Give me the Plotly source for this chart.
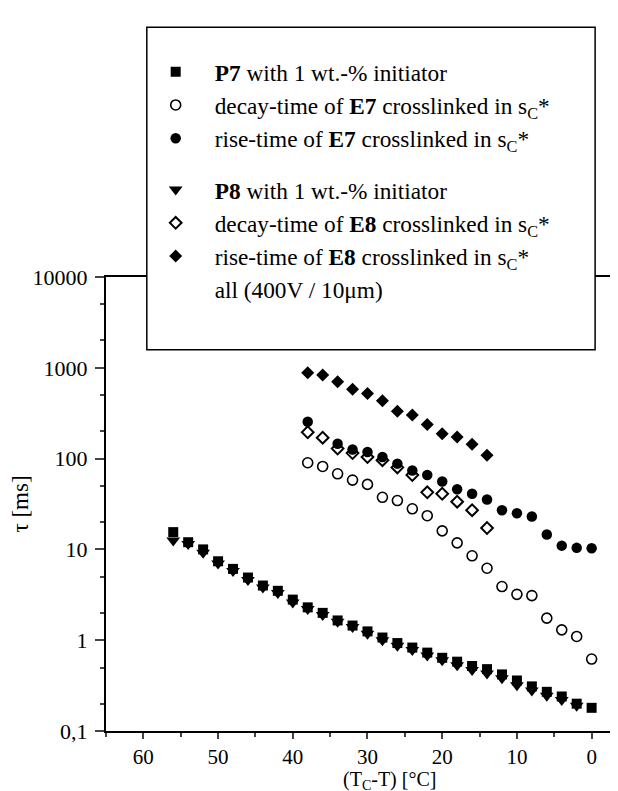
import plotly.graph_objects as go

# ---- data ----
x_p7 = [56, 54, 52, 50, 48, 46, 44, 42, 40, 38, 36, 34, 32, 30, 28, 26, 24, 22, 20, 18, 16, 14, 12, 10, 8, 6, 4, 2, 0]
y_p7 = [15.5, 12, 10, 7.4, 6.1, 4.9, 4.0, 3.5, 2.8, 2.3, 2.0, 1.65, 1.45, 1.25, 1.07, 0.93, 0.83, 0.73, 0.64, 0.58, 0.52, 0.48, 0.42, 0.36, 0.31, 0.27, 0.24, 0.2, 0.18]

x_p8 = [56, 54, 52, 50, 48, 46, 44, 42, 40, 38, 36, 34, 32, 30, 28, 26, 24, 22, 20, 18, 16, 14, 12, 10, 8, 6, 4, 2]
y_p8 = [12.5, 11.5, 9.2, 7.0, 5.8, 4.6, 3.8, 3.3, 2.6, 2.2, 1.9, 1.6, 1.4, 1.18, 1.0, 0.87, 0.78, 0.68, 0.6, 0.53, 0.47, 0.43, 0.38, 0.32, 0.28, 0.245, 0.22, 0.19]

x_dE7 = [38, 36, 34, 32, 30, 28, 26, 24, 22, 20, 18, 16, 14, 12, 10, 8, 6, 4, 2, 0]
y_dE7 = [90, 82, 68, 58, 52, 37.5, 34.5, 28, 23.5, 16, 11.8, 8.5, 6.2, 3.9, 3.2, 3.1, 1.75, 1.3, 1.1, 0.62]

x_rE7 = [38, 34, 32, 30, 28, 26, 24, 22, 20, 18, 16, 14, 12, 10, 8, 6, 4, 2, 0]
y_rE7 = [255, 146, 126, 118, 104, 88, 74, 66, 56, 46, 41, 35.5, 27, 25, 23, 14.6, 11, 10.4, 10.3]

x_dE8 = [38, 36, 34, 32, 30, 28, 26, 24, 22, 20, 18, 16, 14]
y_dE8 = [195, 170, 129, 115, 104, 96, 80, 66, 42.5, 41, 33.5, 27, 17.2]

x_rE8 = [38, 36, 34, 32, 30, 28, 26, 24, 22, 20, 18, 16, 14]
y_rE8 = [884, 834, 700, 581, 521, 434, 332, 302, 238, 188, 173, 144, 109]

y_tickvals = [0.1, 1, 10, 100, 1000, 10000]
y_ticktext = ["0,1", "1", "10", "100", "1000", "10000"]
x_tickvals = [60, 50, 40, 30, 20, 10, 0]

names = [
    "<b>P7</b> with 1 wt.-% initiator",
    "decay-time of <b>E7</b> crosslinked in s<sub>C</sub>*",
    "rise-time of <b>E7</b> crosslinked in s<sub>C</sub>*",
    "<b>P8</b> with 1 wt.-% initiator",
    "decay-time of <b>E8</b> crosslinked in s<sub>C</sub>*",
    "rise-time of <b>E8</b> crosslinked in s<sub>C</sub>*",
    "all (400V / 10\u03bcm)",
]
x_title = "(T<sub>C</sub>-T) [\u00b0C]"
y_title = "\u03c4 [ms]"

FONT = "Liberation Serif, Times New Roman, serif"
fig = go.Figure()

fig.add_trace(go.Scatter(x=x_p7, y=y_p7, mode="markers", name=names[0], legendgroup="g1",
                         marker=dict(symbol="square", size=10, color="black")))
fig.add_trace(go.Scatter(x=x_dE7, y=y_dE7, mode="markers", name=names[1], legendgroup="g1",
                         marker=dict(symbol="circle-open", size=10, color="black", line=dict(width=1.6))))
fig.add_trace(go.Scatter(x=x_rE7, y=y_rE7, mode="markers", name=names[2], legendgroup="g1",
                         marker=dict(symbol="circle", size=10.5, color="black")))
fig.add_trace(go.Scatter(x=x_p8, y=y_p8, mode="markers", name=names[3], legendgroup="g2",
                         marker=dict(symbol="triangle-down", size=12, color="black")))
fig.add_trace(go.Scatter(x=x_dE8, y=y_dE8, mode="markers", name=names[4], legendgroup="g2",
                         marker=dict(symbol="diamond-open", size=9, color="black", line=dict(width=2))))
fig.add_trace(go.Scatter(x=x_rE8, y=y_rE8, mode="markers", name=names[5], legendgroup="g2",
                         marker=dict(symbol="diamond", size=10, color="black")))
fig.add_trace(go.Scatter(x=[None], y=[None], mode="markers", name=names[6], legendgroup="g2",
                         marker=dict(symbol="circle", size=1, color="rgba(0,0,0,0)")))

fig.update_layout(
    width=618, height=791,
    margin=dict(l=96, r=0, t=269, b=68),
    paper_bgcolor="white", plot_bgcolor="white",
    font=dict(family=FONT, size=22, color="black"),
    showlegend=True,
    legend=dict(x=0.059, y=1.50, xanchor="left", yanchor="top",
                bgcolor="rgba(0,0,0,0)", borderwidth=0, itemwidth=68,
                font=dict(family=FONT, size=23.3, color="black"),
                traceorder="grouped", tracegroupgap=18, itemsizing="trace"),
    shapes=[dict(type="rect", xref="paper", yref="paper", x0=0.0785, x1=0.9406, y0=0.84, y1=1.55,
                 line=dict(color="black", width=1.5), fillcolor="white", layer="above")],
    annotations=[
        dict(text=x_title, xref="paper", yref="paper", x=0.546, y=-0.108, xanchor="center", yanchor="middle",
             showarrow=False, font=dict(family=FONT, size=20, color="black")),
    ],
)

fig.update_xaxes(range=[65, -4.6], tickvals=x_tickvals, ticks="outside", ticklen=6, tickwidth=2,
                 showline=True, linewidth=2, linecolor="black", mirror=True, showgrid=False, zeroline=False,
                 minor=dict(dtick=5, ticks="outside", ticklen=4, tickwidth=2, showgrid=False),
                 tickfont=dict(family=FONT, size=21))
fig.update_yaxes(type="log", range=[-1, 4], tickvals=y_tickvals, ticktext=y_ticktext,
                 ticks="outside", ticklen=9, tickwidth=2, ticklabelstandoff=3,
                 showline=True, linewidth=2, linecolor="black", mirror=False, showgrid=False, zeroline=False,
                 minor=dict(ticks="outside", ticklen=4, tickwidth=1.5, showgrid=False),
                 tickfont=dict(family=FONT, size=22),
                 title=dict(text=y_title, font=dict(family=FONT, size=23), standoff=8))

fig.write_html("out.html")
